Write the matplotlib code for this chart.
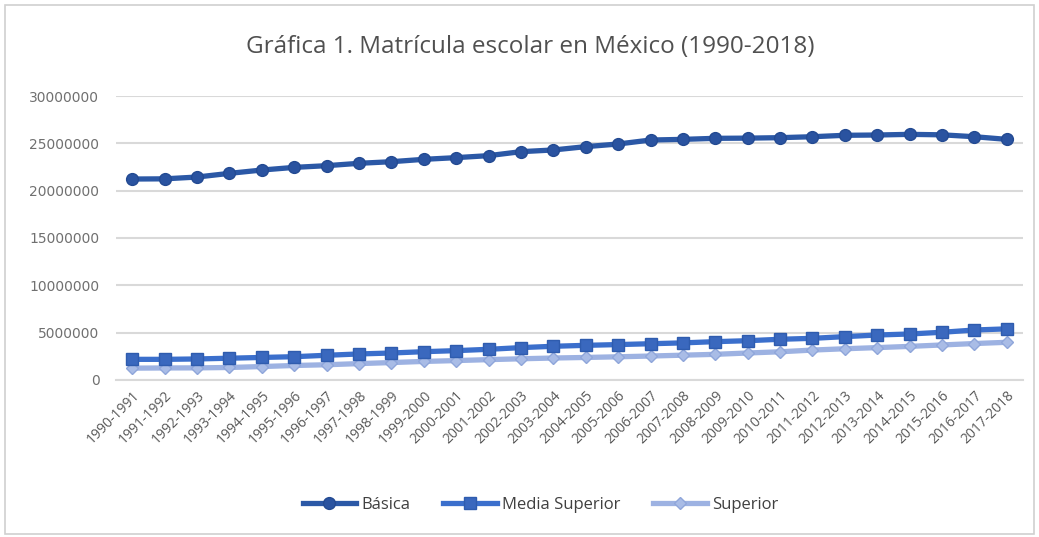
import matplotlib
matplotlib.use("Agg")
import matplotlib.pyplot as plt
from matplotlib.patches import Rectangle

# Matrícula escolar por ciclo y nivel educativo
ciclos = [
    "1990-1991", "1991-1992", "1992-1993", "1993-1994", "1994-1995", "1995-1996",
    "1996-1997", "1997-1998", "1998-1999", "1999-2000", "2000-2001", "2001-2002",
    "2002-2003", "2003-2004", "2004-2005", "2005-2006", "2006-2007", "2007-2008",
    "2008-2009", "2009-2010", "2010-2011", "2011-2012", "2012-2013", "2013-2014",
    "2014-2015", "2015-2016", "2016-2017", "2017-2018",
]
basica = [
    21230000, 21250000, 21440000, 21830000, 22180000, 22460000, 22640000, 22890000,
    23060000, 23310000, 23490000, 23700000, 24120000, 24300000, 24650000, 24930000,
    25350000, 25420000, 25530000, 25550000, 25600000, 25700000, 25850000, 25880000,
    25950000, 25900000, 25700000, 25420000,
]
media_superior = [
    2180000, 2180000, 2220000, 2300000, 2380000, 2460000, 2610000, 2750000,
    2850000, 2990000, 3100000, 3240000, 3420000, 3560000, 3660000, 3740000,
    3830000, 3920000, 4050000, 4150000, 4300000, 4400000, 4580000, 4750000,
    4860000, 5040000, 5280000, 5400000,
]
superior = [
    1250000, 1270000, 1280000, 1320000, 1420000, 1530000, 1610000, 1730000,
    1840000, 1960000, 2050000, 2150000, 2240000, 2320000, 2380000, 2450000,
    2530000, 2620000, 2710000, 2850000, 2980000, 3160000, 3300000, 3420000,
    3550000, 3700000, 3850000, 3980000,
]

fuente = ["Open Sans", "DejaVu Sans"]

fig = plt.figure(figsize=(10.39, 5.37), dpi=100)
ax = fig.add_axes([0.1117, 0.2924, 0.8729, 0.5288])

# marco gris alrededor de la gráfica
fig.patches.append(Rectangle((0.005, 0.006), 0.99, 0.985, transform=fig.transFigure,
                             fill=False, edgecolor="#D0D0D0", linewidth=1.2))

x = range(len(ciclos))
ax.plot(x, superior, color="#9DB2E2", linewidth=3.8, marker="D", markersize=6,
        markerfacecolor="#A9BCE6", markeredgecolor="#8FA6DA", label="Superior", zorder=3)
ax.plot(x, media_superior, color="#3B6FCC", linewidth=3.8, marker="s", markersize=8,
        markerfacecolor="#3A68BE", markeredgecolor="#2F5CAE", label="Media Superior", zorder=4)
ax.plot(x, basica, color="#2B58A6", linewidth=3.8, marker="o", markersize=8.5,
        markerfacecolor="#2A53A0", markeredgecolor="#234A92", label="Básica", zorder=5)

ax.set_xlim(-0.5, len(ciclos) - 0.5)
ax.set_ylim(0, 30000000)
ax.set_yticks(range(0, 30000001, 5000000))
ax.set_yticklabels([str(v) for v in range(0, 30000001, 5000000)])
ax.set_xticks(list(x))
ax.set_xticklabels(ciclos, rotation=45, ha="right", rotation_mode="anchor",
                   family=fuente, fontsize=10, color="#595959")
for lbl in ax.get_yticklabels():
    lbl.set_fontsize(10)
    lbl.set_color("#707070")

ax.grid(axis="y", color="#D9D9D9", linewidth=1.5)
ax.set_axisbelow(True)
for lado in ["top", "right", "left"]:
    ax.spines[lado].set_visible(False)
ax.spines["bottom"].set_color("#D9D9D9")
ax.spines["bottom"].set_linewidth(1.5)
ax.tick_params(axis="both", length=0)
ax.tick_params(axis="y", pad=12)
ax.tick_params(axis="x", pad=6)

fig.text(0.51, 0.912, "Gráfica 1. Matrícula escolar en México (1990-2018)",
         ha="center", va="center", family=fuente, fontsize=17.5, color="#505050")

handles, labels = ax.get_legend_handles_labels()
orden = [2, 1, 0]
fig.legend([handles[i] for i in orden], [labels[i] for i in orden],
           loc="center", bbox_to_anchor=(0.52, 0.06), ncol=3, frameon=False,
           prop={"family": fuente, "size": 12}, labelcolor="#404040",
           handlelength=3.2, handletextpad=0.3, columnspacing=2.0)

fig.savefig("out.png", dpi=100, facecolor="white")
